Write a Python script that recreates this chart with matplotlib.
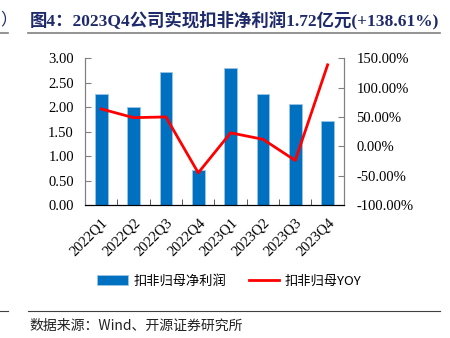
import matplotlib
matplotlib.use("Agg")
import matplotlib.pyplot as plt
import matplotlib.transforms as mtransforms
import numpy as np
from matplotlib.lines import Line2D

# Quarterly non-GAAP net profit (100m CNY) and its YoY growth (%)
quarters = ["2022Q1", "2022Q2", "2022Q3", "2022Q4", "2023Q1", "2023Q2", "2023Q3", "2023Q4"]
profit = [2.26, 2.01, 2.71, 0.72, 2.79, 2.26, 2.07, 1.72]
yoy = [63.6, 48.8, 50.0, -45.0, 23.0, 12.0, -24.0, 138.61]
left_ticks = [0.0, 0.5, 1.0, 1.5, 2.0, 2.5, 3.0]
right_ticks = [-100, -50, 0, 50, 100, 150]

title_text = "图4：2023Q4公司实现扣非净利润1.72亿元(+138.61%)"
source_text = "数据来源：Wind、开源证券研究所"
bar_label = "扣非归母净利润"
line_label = "扣非归母YOY"

serif = ["Liberation Serif", "Noto Sans CJK SC"]
cjk = ["Noto Sans CJK SC", "Liberation Serif"]

fig = plt.figure(figsize=(4.5, 3.38), dpi=100)
ax = fig.add_axes([0.189, 0.393, 0.575, 0.435])
ax2 = ax.twinx()

x = np.arange(len(quarters))
ax.bar(x, profit, width=0.39, color="#0070C0", edgecolor="#9DC3E6", linewidth=0.6, zorder=2)
ax2.plot(x, yoy, color="#FF0000", lw=2.0, zorder=3)

ax.set_xlim(-0.5, len(quarters) - 0.5)
ax.set_ylim(0, 3.0)
ax2.set_ylim(-100, 150)
ax.set_yticks(left_ticks)
ax.set_yticklabels([f"{v:.2f}" for v in left_ticks], family=serif, fontsize=10.5)
ax2.set_yticks(right_ticks)
ax2.set_yticklabels([f"{v:.2f}%" for v in right_ticks], family=serif, fontsize=10.5)

ax.set_xticks(x)
ax.set_xticklabels(quarters, rotation=45, ha="right", va="top", rotation_mode="anchor",
                   family=serif, fontsize=10.5)
shift = mtransforms.ScaledTranslation(4 / 100, 0, fig.dpi_scale_trans)
for lbl in ax.get_xticklabels():
    lbl.set_transform(lbl.get_transform() + shift)
ax.set_xticks(np.arange(-0.5, len(quarters), 1.0), minor=True)
ax.tick_params(axis="x", which="major", length=0, pad=8)
ax.tick_params(axis="x", which="minor", direction="in", length=4, color="#404040")
ax.tick_params(axis="y", direction="in", length=4, color="#808080", pad=8)
ax2.tick_params(axis="y", direction="in", length=4, color="#808080", pad=9)

for a in (ax, ax2):
    a.spines["top"].set_visible(False)
    a.spines["left"].set_color("#808080")
    a.spines["right"].set_color("#808080")
    a.spines["bottom"].set_color("#000000")
    a.set_facecolor("none")
ax.set_zorder(ax2.get_zorder() - 1)
ax2.patch.set_visible(False)

# Legend below the chart
handles = [plt.Rectangle((0, 0), 1, 1, facecolor="#0070C0", edgecolor="#9DC3E6", linewidth=0.6),
           Line2D([0], [0], color="#FF0000", lw=2.0)]
fig.legend(handles, [bar_label, line_label], loc="center", bbox_to_anchor=(0.51, 0.168),
           ncol=2, frameon=False, prop={"family": cjk, "size": 9.5}, handlelength=2.3,
           handleheight=0.8, columnspacing=1.7, handletextpad=0.45)

# Title and source rules
fig.text(0.067, 0.94, title_text, family=serif, fontsize=12.5, fontweight="bold",
         color="#1F2A6B", ha="left", va="center")
fig.text(0.0, 0.94, "）", family=cjk, fontsize=12, color="#1F2A6B", ha="left", va="center")
fig.add_artist(Line2D([0.062, 0.978], [0.902, 0.902], color="#808080", lw=1.2))
fig.add_artist(Line2D([0.0, 0.018], [0.902, 0.902], color="#808080", lw=1.2))
fig.add_artist(Line2D([0.062, 0.978], [0.08, 0.08], color="#404040", lw=0.8))
fig.add_artist(Line2D([0.0, 0.018], [0.08, 0.08], color="#404040", lw=0.8))
fig.text(0.066, 0.035, source_text, family=cjk, fontsize=10, color="#222222",
         ha="left", va="center")

fig.savefig("out.png", dpi=100)
